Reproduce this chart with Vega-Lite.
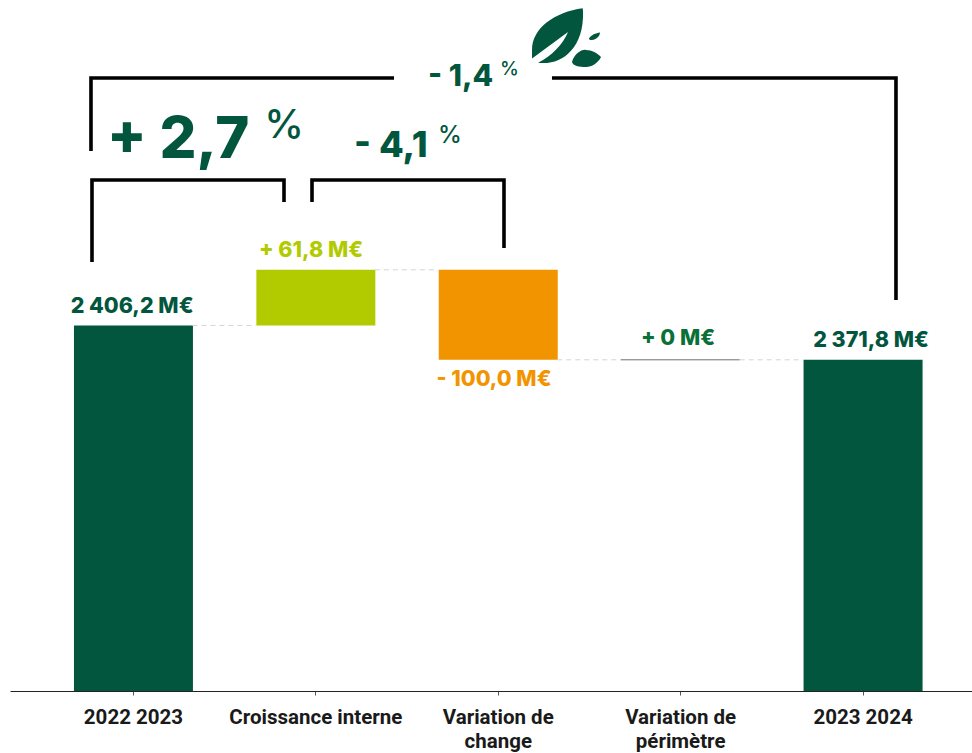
{"$schema":"https://vega.github.io/schema/vega-lite/v6.json","width":962,"height":691,"autosize":{"type":"none"},"padding":{"left":10,"top":0,"right":0,"bottom":62},"background":"white","config":{"view":{"stroke":null}},
"datasets":{
"bars":[{"cat":"2022 2023","y0":2000,"y1":2406.2,"kind":"total"},{"cat":"Croissance interne","y0":2406.2,"y1":2468,"kind":"hausse"},{"cat":"Variation de change","y0":2368,"y1":2468,"kind":"baisse"},{"cat":"Variation de périmètre","y0":2368,"y1":2368,"kind":"stable"},{"cat":"2023 2024","y0":2000,"y1":2368,"kind":"total"}],
"connectors":[{"p0":0.326,"p1":0.674,"y":2406.2},{"p0":1.326,"p1":1.674,"y":2468},{"p0":2.326,"p1":2.674,"y":2368},{"p0":3.326,"p1":3.674,"y":2368}],
"zero":[{"p0":2.674,"p1":3.326,"y":2368}],
"brackets":[{"id":"A1","o":1,"p":-0.2303,"y":2600},{"id":"A1","o":2,"p":-0.2303,"y":2681.1},{"id":"A1","o":3,"p":1.431,"y":2681.1},{"id":"A2","o":1,"p":2.297,"y":2681.1},{"id":"A2","o":2,"p":4.183,"y":2681.1},{"id":"A2","o":3,"p":4.183,"y":2434.4},{"id":"B","o":1,"p":-0.2248,"y":2476.7},{"id":"B","o":2,"p":-0.2248,"y":2567.8},{"id":"B","o":3,"p":0.8279,"y":2567.8},{"id":"B","o":4,"p":0.8279,"y":2543.3},{"id":"C","o":1,"p":0.9814,"y":2543.3},{"id":"C","o":2,"p":0.9814,"y":2567.8},{"id":"C","o":3,"p":2.034,"y":2567.8},{"id":"C","o":4,"p":2.034,"y":2492.2}],
"values":[{"p":-0.005,"y":2420,"t":"2 406,2 M€","kind":"total"},{"p":0.976,"y":2482.2,"t":"+ 61,8 M€","kind":"hausse"},{"p":1.979,"y":2338.9,"t":"- 100,0 M€","kind":"baisse"},{"p":2.988,"y":2384.4,"t":"+ 0 M€","kind":"stable"},{"p":4.046,"y":2382.2,"t":"2 371,8 M€","kind":"total"}],
"leaf":[{"p":2.374,"y":2725.6}]
},
"layer":[
{"data":{"name":"bars"},"mark":{"type":"bar"},"encoding":{
"x":{"field":"cat","type":"nominal","sort":null,"scale":{"type":"band","paddingInner":0.3476,"paddingOuter":0.3108,"align":0.564,"round":false},
"axis":{"title":null,"labelAngle":0,"domainColor":"#222222","domainWidth":1.2,"tickColor":"#555555","tickSize":4,"labelPadding":12,"labelFont":"Roboto","labelFontWeight":700,"labelFontSize":20.5,"labelColor":"#1a1a1a","labelLineHeight":24,"labelBaseline":"top","labelLimit":300,"labelOverlap":false,"grid":false,"labelExpr":"datum.value=='Variation de change'?['Variation de','change']:datum.value=='Variation de périmètre'?['Variation de','périmètre']:datum.value"}},
"y":{"field":"y0","type":"quantitative","scale":{"domain":[2000,2767.8],"nice":false,"zero":false},"axis":null},
"y2":{"field":"y1"},
"color":{"field":"kind","type":"nominal","legend":null,"scale":{"domain":["total","hausse","baisse","stable"],"range":["#03563e","#b2cb00","#f29400","#0a7038"]}}}},
{"encoding":{"x":{"field":"p","type":"quantitative","axis":null,"scale":{"domain":[-0.6743,4.5998],"nice":false,"zero":false}},"y":{"field":"y","type":"quantitative","axis":null,"scale":{"domain":[2000,2767.8],"nice":false,"zero":false}}},
"layer":[
{"data":{"name":"connectors"},"mark":{"type":"rule","color":"#d4d4d4","strokeWidth":1,"strokeDash":[5,4]},"encoding":{"x":{"field":"p0","type":"quantitative"},"x2":{"field":"p1"}}},
{"data":{"name":"zero"},"mark":{"type":"rule","color":"#6f6f6f","strokeWidth":1},"encoding":{"x":{"field":"p0","type":"quantitative"},"x2":{"field":"p1"}}},
{"data":{"name":"brackets"},"mark":{"type":"line","color":"#000000","strokeWidth":3.6,"strokeJoin":"miter","strokeCap":"butt"},"encoding":{"detail":{"field":"id"},"order":{"field":"o","type":"quantitative"}}},
{"data":{"name":"values"},"mark":{"type":"text","font":"Inter","fontWeight":800,"fontSize":21.5,"align":"center","baseline":"alphabetic"},"encoding":{"text":{"field":"t"},"color":{"field":"kind","type":"nominal","legend":null}}},
{"data":{"values":[{"p":-0.1425,"y":2592,"t":"+ 2,7"}]},"mark":{"type":"text","font":"Inter","fontWeight":800,"fontSize":58,"align":"left","baseline":"alphabetic","color":"#03563e"},"encoding":{"text":{"field":"t"}}},
{"data":{"values":[{"p":0.72,"y":2615,"t":"%"}]},"mark":{"type":"text","font":"Inter","fontWeight":500,"fontSize":40,"align":"left","baseline":"alphabetic","color":"#03563e"},"encoding":{"text":{"field":"t"}}},
{"data":{"values":[{"p":1.212,"y":2593,"t":"- 4,1"}]},"mark":{"type":"text","font":"Inter","fontWeight":800,"fontSize":36,"align":"left","baseline":"alphabetic","color":"#03563e"},"encoding":{"text":{"field":"t"}}},
{"data":{"values":[{"p":1.672,"y":2609,"t":"%"}]},"mark":{"type":"text","font":"Inter","fontWeight":500,"fontSize":24,"align":"left","baseline":"alphabetic","color":"#03563e"},"encoding":{"text":{"field":"t"}}},
{"data":{"values":[{"p":1.617,"y":2672,"t":"- 1,4"}]},"mark":{"type":"text","font":"Inter","fontWeight":800,"fontSize":30,"align":"left","baseline":"alphabetic","color":"#03563e"},"encoding":{"text":{"field":"t"}}},
{"data":{"values":[{"p":2.012,"y":2684,"t":"%"}]},"mark":{"type":"text","font":"Inter","fontWeight":500,"fontSize":19,"align":"left","baseline":"alphabetic","color":"#03563e"},"encoding":{"text":{"field":"t"}}},
{"data":{"name":"leaf"},"mark":{"type":"point","filled":true,"opacity":1,"color":"#03563e","size":4900,"shape":"M.477 -.849C-.314 -.743 -.971 -.286 -.971 .343L-.971 .586L.057 -.171C-.086 .171 -.4 .514 -.8 .706C-.171 .8 .514 .343 .486 -.743ZM.171 .686C.229 .457 .457 .314 .571 .343C.743 .343 .886 .429 1 .543C.914 .714 .743 .829 .571 .829C.371 .829 .2 .8 .171 .686ZM.657 .014C.714 -.086 .857 -.143 .971 -.157C.971 -.057 .857 .057 .743 .057C.686 .057 .657 .043 .657 .014Z"}}
]}
],
"resolve":{"scale":{"x":"independent"}}}
